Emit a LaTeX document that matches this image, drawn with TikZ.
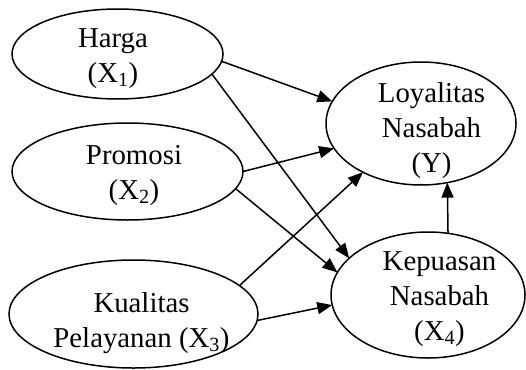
\documentclass[tikz,border=0pt]{standalone}
\usepackage{fontspec}
\setmainfont{Liberation Serif}
\usetikzlibrary{shapes.geometric,arrows.meta}
\begin{document}
\begin{tikzpicture}[x=1pt,y=-1pt,
  oval/.style={draw,ellipse,line width=1.5pt,inner sep=0pt,outer sep=0pt},
  lbl/.style={align=center,inner sep=0pt,font=\fontsize{28.8}{35}\selectfont},
  arr/.style={line width=1.5pt,-{Triangle[length=15pt,width=12pt]}}]
\useasboundingbox (0,0) rectangle (526,369);
\node[oval,minimum width=211pt,minimum height=90pt] (h) at (117.5,54) {};
\node[oval,minimum width=231pt,minimum height=97pt] (p) at (127.5,171.5) {};
\node[oval,minimum width=249pt,minimum height=108pt] (q) at (133.5,314) {};
\node[oval,minimum width=190pt,minimum height=123pt] (l) at (421,123.5) {};
\node[oval,minimum width=194pt,minimum height=126pt] (k) at (428,295) {};
\node[lbl] (ht) at (113,57.5) {\strut Harga\\\strut (X\textsubscript{1})};
\node[lbl] (pt) at (134,174.5) {\strut Promosi\\\strut (X\textsubscript{2})};
\node[lbl] (qt) at (141.5,322.5) {\strut Kualitas\\\strut Pelayanan (X\textsubscript{3})};
\node[lbl] (lt) at (431.5,130) {\strut Loyalitas\\\strut Nasabah\\\strut (Y)};
\node[lbl] (kt) at (439.5,298) {\strut Kepuasan\\\strut Nasabah\\\strut (X\textsubscript{4})};
\draw[arr] (h.-4) -- (l.166);
\draw[arr] (h.-12) -- (k.155);
\draw[arr] (p.0) -- (l.196);
\draw[arr] (p.-9) -- (k.166);
\draw[arr] (q.15) -- (l.220);
\draw[arr] (q.-3) -- (k.186);
\draw[arr] (k.72) -- (l.-66);
\end{tikzpicture}
\end{document}
